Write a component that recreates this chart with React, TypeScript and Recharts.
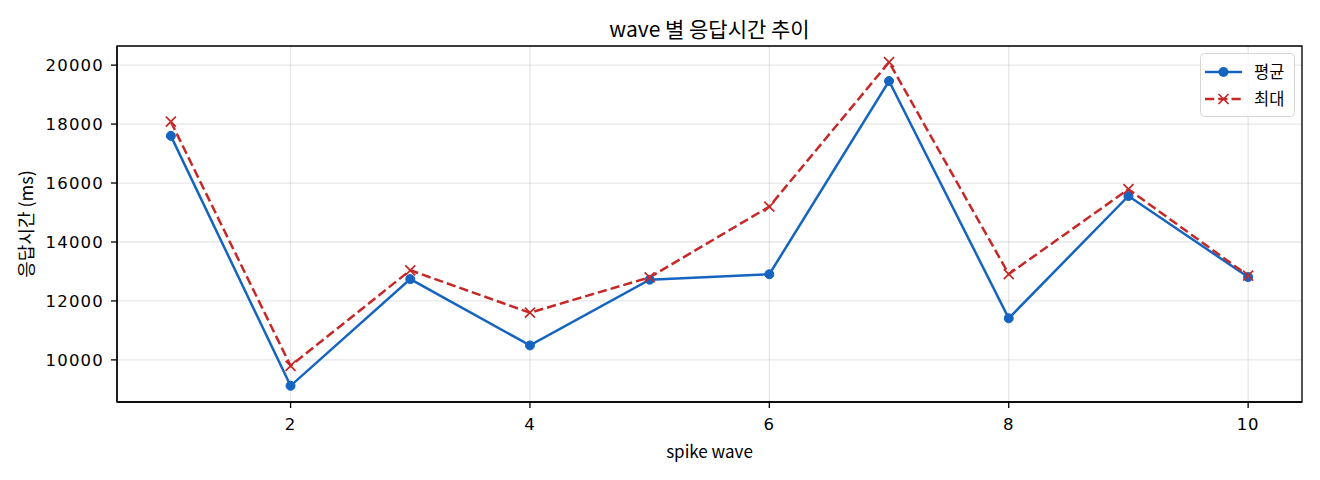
import React from 'react';
import {
  LineChart,
  Line,
  XAxis,
  YAxis,
  CartesianGrid,
  Legend,
  ReferenceArea,
  Customized,
} from 'recharts';

const waves = [1, 2, 3, 4, 5, 6, 7, 8, 9, 10];
const avgMs = [17600, 9120, 12740, 10490, 12720, 12905, 19460, 11410, 15560, 12810];
const maxMs = [18080, 9800, 13040, 11600, 12800, 15200, 20100, 12910, 15790, 12860];
const xTicks = [2, 4, 6, 8, 10];
const yTicks = [10000, 12000, 14000, 16000, 18000, 20000];
const seriesNames = { avg: '평균', max: '최대' };
const titleText = 'wave 별 응답시간 추이';
const xLabel = 'spike wave';
const yLabel = '응답시간 (ms)';

const data = waves.map((w, i) => ({ wave: w, avg: avgMs[i], max: maxMs[i] }));

const BLUE = '#1565C0';
const RED = '#C62828';
const KFONT = '"Noto Sans CJK KR", "Noto Sans", sans-serif';
const NFONT = '"DejaVu Sans", sans-serif';

const XDomain: [number, number] = [0.55, 10.45];
const YDomain: [number, number] = [8571, 20649];

const XDot = (props: any) => {
  const { cx, cy, index } = props;
  if (cx == null || cy == null) return null;
  const s = 5;
  return (
    <path
      key={`xd-${index}`}
      d={`M${cx - s},${cy - s}L${cx + s},${cy + s}M${cx - s},${cy + s}L${cx + s},${cy - s}`}
      stroke={RED}
      strokeWidth={1.7}
      fill="none"
    />
  );
};

const LegendBox = () => (
  <svg width={96} height={66} style={{ display: 'block' }}>
    <rect x={0.5} y={0.5} width={94} height={63} rx={4} ry={4} fill="#fff" fillOpacity={0.8} stroke="#d6d6d6" strokeWidth={1} />
    <line x1={5} y1={19} x2={42} y2={19} stroke={BLUE} strokeWidth={2.5} />
    <circle cx={23.5} cy={19} r={5} fill={BLUE} />
    <text x={54} y={19} dy="0.35em" fontSize={16.5} fontFamily={KFONT} fill="#000">{seriesNames.avg}</text>
    <line x1={5} y1={46} x2={42} y2={46} stroke={RED} strokeWidth={2.5} strokeDasharray="9.25 4" />
    <path d="M18.5,41L28.5,51M18.5,51L28.5,41" stroke={RED} strokeWidth={1.7} fill="none" />
    <text x={54} y={46} dy="0.35em" fontSize={16.5} fontFamily={KFONT} fill="#000">{seriesNames.max}</text>
  </svg>
);

const Title = () => (
  <text x={709.5} y={30} dy="0.35em" textAnchor="middle" fontSize={21} fontFamily={KFONT} fill="#000">
    {titleText}
  </text>
);

const YLabelContent = (props: any) => {
  const cy = 224;
  const cx = 27;
  return (
    <text x={cx} y={cy} dy="0.35em" textAnchor="middle" transform={`rotate(-90, ${cx}, ${cy})`} fontSize={18} fontFamily={KFONT} fill="#000">
      {yLabel}
    </text>
  );
};

const XLabelContent = (props: any) => (
  <text x={709.5} y={452} dy="0.35em" textAnchor="middle" fontSize={17} fontFamily={KFONT} fill="#000">
    {xLabel}
  </text>
);

export default function App() {
  return (
    <div style={{ position: 'absolute', left: 0, top: 0, width: 1320, height: 480, background: '#fff' }}>
      <LineChart
        width={1320}
        height={480}
        data={data}
        margin={{ top: 46, right: 18, left: 50, bottom: 48 }}
      >
        <CartesianGrid stroke="#b0b0b0" strokeOpacity={0.3} strokeWidth={1.3} vertical horizontal />
        <XAxis
          dataKey="wave"
          type="number"
          domain={XDomain}
          ticks={xTicks}
          height={30}
          tickSize={6}
          tickMargin={10}
          axisLine={{ stroke: '#000', strokeWidth: 1.3 }}
          tickLine={{ stroke: '#000', strokeWidth: 1.3 }}
          tick={{ fontSize: 16.5, fill: '#000', fontFamily: NFONT, letterSpacing: 1 }}
          allowDataOverflow
          label={<XLabelContent />}
        />
        <YAxis
          type="number"
          domain={YDomain}
          ticks={yTicks}
          width={67}
          tickSize={6}
          tickMargin={7}
          axisLine={{ stroke: '#000', strokeWidth: 1.3 }}
          tickLine={{ stroke: '#000', strokeWidth: 1.3 }}
          tick={{ fontSize: 16.5, fill: '#000', fontFamily: NFONT, letterSpacing: 1.2 }}
          allowDataOverflow
          label={<YLabelContent />}
        />
        <ReferenceArea
          x1={XDomain[0]}
          x2={XDomain[1]}
          y1={YDomain[0]}
          y2={YDomain[1]}
          fill="none"
          fillOpacity={0}
          stroke="#000"
          strokeWidth={1.3}
        />
        <Line
          type="linear"
          dataKey="avg"
          name={seriesNames.avg}
          stroke={BLUE}
          strokeWidth={2.5}
          dot={{ r: 4.5, fill: BLUE, stroke: BLUE, strokeWidth: 1 }}
          activeDot={false}
          isAnimationActive={false}
        />
        <Line
          type="linear"
          dataKey="max"
          name={seriesNames.max}
          stroke={RED}
          strokeWidth={2.5}
          strokeDasharray="9.25 4"
          dot={<XDot />}
          activeDot={false}
          isAnimationActive={false}
        />
        <Legend
          layout="horizontal"
          verticalAlign="middle"
          align="center"
          content={<LegendBox />}
          wrapperStyle={{ position: 'absolute', left: 1200, top: 53, width: 96, height: 66 }}
        />
        <Customized component={<Title />} />
      </LineChart>
    </div>
  );
}
